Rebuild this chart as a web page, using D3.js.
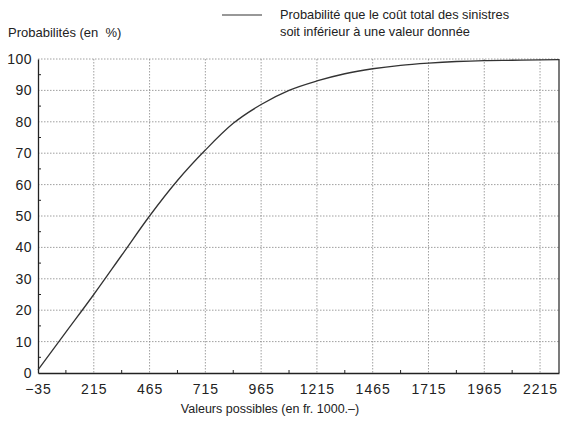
<!DOCTYPE html>
<html lang="fr">
<head>
  <meta charset="utf-8">
  <title>Probabilités - coût total des sinistres</title>
  <script src="https://cdnjs.cloudflare.com/ajax/libs/d3/7.8.5/d3.min.js"></script>
  <style>
    body { margin: 0; background: #fff; }
    svg { display: block; font-family: "Liberation Sans", Arial, sans-serif; }
  </style>
</head>
<body>
  <div id="chart"></div>
  <script>
    // data
    const values = [-35, 90, 215, 340, 465, 590, 715, 840, 965, 1090, 1215, 1340, 1465, 1590, 1715, 1840, 1965, 2090, 2215, 2300];
    const probs = [1, 13, 25, 37.5, 50, 61.3, 71, 79.5, 85.5, 90, 93, 95.3, 96.9, 98, 98.7, 99.2, 99.5, 99.6, 99.7, 99.8];
    const xTicks = [-35, 215, 465, 715, 965, 1215, 1465, 1715, 1965, 2215];
    const yTicks = [0, 10, 20, 30, 40, 50, 60, 70, 80, 90, 100];

    const width = 563, height = 423;
    const margin = { top: 59, right: 4, bottom: 50, left: 38 };
    const innerW = width - margin.left - margin.right;
    const innerH = height - margin.top - margin.bottom;

    const svg = d3.select('#chart')
      .append('svg')
      .attr('width', width)
      .attr('height', height);

    const g = svg.append('g')
      .attr('transform', `translate(${margin.left}, ${margin.top})`);

    const x = d3.scaleLinear().domain([-35, 2300]).range([0, innerW]);
    const y = d3.scaleLinear().domain([0, 100]).range([innerH, 0]);

    // grid
    g.append('g')
      .selectAll('line')
      .data(yTicks.slice(1))
      .enter()
      .append('line')
      .attr('x1', 0).attr('x2', innerW)
      .attr('y1', d => y(d)).attr('y2', d => y(d))
      .attr('stroke', '#888').attr('stroke-width', 0.8)
      .attr('stroke-dasharray', '1.5,1.5');

    g.append('g')
      .selectAll('line')
      .data(xTicks.slice(1))
      .enter()
      .append('line')
      .attr('x1', d => x(d)).attr('x2', d => x(d))
      .attr('y1', 0).attr('y2', innerH)
      .attr('stroke', '#888').attr('stroke-width', 0.8)
      .attr('stroke-dasharray', '1.5,1.5');

    // right border
    g.append('line')
      .attr('x1', innerW).attr('x2', innerW)
      .attr('y1', 0).attr('y2', innerH)
      .attr('stroke', '#222').attr('stroke-width', 1.2);

    // axes
    const xAxis = d3.axisBottom(x)
      .tickValues(xTicks)
      .tickSize(0)
      .tickPadding(11)
      .tickFormat(d => d < 0 ? '\u2212' + Math.abs(d) : d);

    const xAxisG = g.append('g')
      .attr('transform', `translate(0, ${innerH})`)
      .call(xAxis);
    xAxisG.select('.domain').attr('stroke', '#222').attr('stroke-width', 1.3);
    xAxisG.selectAll('text')
      .attr('fill', '#222').attr('font-size', 14).attr('letter-spacing', 1)
      .attr('font-family', '"Liberation Sans", Arial, sans-serif');

    const yAxis = d3.axisLeft(y)
      .tickValues(yTicks)
      .tickSize(0)
      .tickPadding(6);

    const yAxisG = g.append('g').call(yAxis);
    yAxisG.select('.domain').attr('stroke', '#222').attr('stroke-width', 1.3);
    yAxisG.selectAll('text')
      .attr('fill', '#222').attr('font-size', 14).attr('letter-spacing', 0.5)
      .attr('font-family', '"Liberation Sans", Arial, sans-serif');

    // minor ticks
    const xMinor = d3.range(90, 2300, 250);
    g.append('g')
      .selectAll('line')
      .data(xMinor)
      .enter()
      .append('line')
      .attr('x1', d => x(d)).attr('x2', d => x(d))
      .attr('y1', innerH).attr('y2', innerH - 3)
      .attr('stroke', '#222').attr('stroke-width', 1);

    const yMinor = d3.range(5, 100, 10);
    g.append('g')
      .selectAll('line')
      .data(yMinor)
      .enter()
      .append('line')
      .attr('x1', 0).attr('x2', 3)
      .attr('y1', d => y(d)).attr('y2', d => y(d))
      .attr('stroke', '#222').attr('stroke-width', 1);

    // curve
    const points = values.map((v, i) => ({ v: v, p: probs[i] }));
    const line = d3.line()
      .x(d => x(d.v))
      .y(d => y(d.p))
      .curve(d3.curveMonotoneX);

    g.append('path')
      .datum(points)
      .attr('d', line)
      .attr('fill', 'none')
      .attr('stroke', '#333')
      .attr('stroke-width', 1.3);

    // titles
    svg.append('text')
      .attr('x', 8).attr('y', 37)
      .attr('font-size', 13).attr('fill', '#222')
      .attr('xml:space', 'preserve')
      .text('Probabilités (en  %)');

    svg.append('text')
      .attr('x', 270).attr('y', 413)
      .attr('text-anchor', 'middle')
      .attr('font-size', 12.5).attr('fill', '#222')
      .text('Valeurs possibles (en fr. 1000.–)');

    // legend
    svg.append('line')
      .attr('x1', 222).attr('x2', 262)
      .attr('y1', 15).attr('y2', 15)
      .attr('stroke', '#333').attr('stroke-width', 1.2);

    const legend = svg.append('text')
      .attr('x', 280).attr('font-size', 12.8).attr('fill', '#222');
    legend.append('tspan').attr('x', 280).attr('y', 19)
      .text('Probabilité que le coût total des sinistres');
    legend.append('tspan').attr('x', 280).attr('y', 36)
      .text('soit inférieur à une valeur donnée');
  </script>
</body>
</html>
